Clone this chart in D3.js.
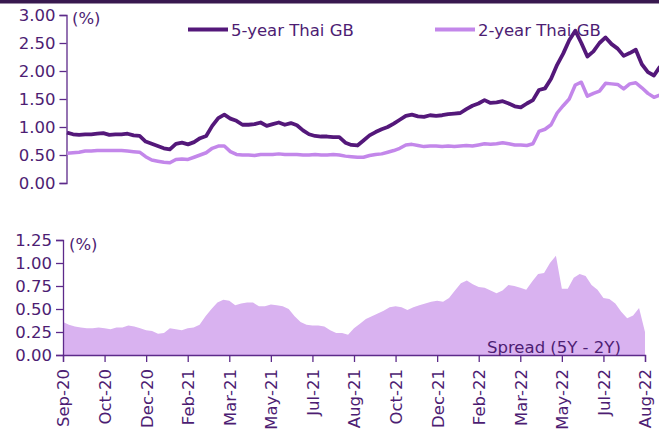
<!DOCTYPE html>
<html>
<head>
<meta charset="utf-8">
<script src="https://cdn.jsdelivr.net/npm/d3@7"></script>
<style>
  body { margin: 0; background: #fff; }
  svg text { font-family: 'DejaVu Sans', Verdana, sans-serif; fill: #4d1d73; }
</style>
</head>
<body>
<script>
const width = 659;
const height = 431;

// x-axis labels (category axis, evenly spaced)
const xLabels = ['Sep-20', 'Oct-20', 'Dec-20', 'Feb-21', 'Mar-21', 'May-21', 'Jul-21', 'Aug-21',
  'Oct-21', 'Dec-21', 'Feb-22', 'Mar-22', 'May-22', 'Jul-22', 'Aug-22'];

// 5-year Thai GB yield (%)
const yield5Y = [0.90, 0.87, 0.86, 0.87, 0.87, 0.88, 0.89, 0.86, 0.87, 0.87,
  0.88, 0.85, 0.84, 0.74, 0.70, 0.66, 0.62, 0.60, 0.70, 0.72,
  0.69, 0.73, 0.80, 0.84, 1.02, 1.16, 1.22, 1.15, 1.11, 1.04,
  1.04, 1.05, 1.08, 1.02, 1.05, 1.08, 1.04, 1.07, 1.03, 0.94,
  0.87, 0.84, 0.83, 0.83, 0.82, 0.82, 0.72, 0.68, 0.67, 0.76,
  0.85, 0.91, 0.96, 1.00, 1.06, 1.13, 1.20, 1.22, 1.19, 1.18,
  1.21, 1.20, 1.21, 1.23, 1.24, 1.25, 1.32, 1.38, 1.42, 1.48,
  1.43, 1.44, 1.46, 1.42, 1.37, 1.35, 1.42, 1.48, 1.66, 1.69,
  1.86, 2.11, 2.31, 2.55, 2.72, 2.50, 2.26, 2.35, 2.50, 2.60,
  2.48, 2.40, 2.27, 2.32, 2.38, 2.12, 1.98, 1.92, 2.08];

// 2-year Thai GB yield (%)
const yield2Y = [0.53, 0.54, 0.55, 0.57, 0.57, 0.58, 0.58, 0.58, 0.58, 0.58,
  0.57, 0.56, 0.55, 0.47, 0.41, 0.39, 0.37, 0.36, 0.42, 0.43,
  0.42, 0.46, 0.50, 0.54, 0.62, 0.66, 0.66, 0.56, 0.51, 0.50,
  0.50, 0.49, 0.51, 0.51, 0.51, 0.52, 0.51, 0.51, 0.51, 0.50,
  0.50, 0.51, 0.50, 0.50, 0.51, 0.50, 0.48, 0.47, 0.46, 0.46,
  0.49, 0.51, 0.52, 0.55, 0.58, 0.62, 0.68, 0.69, 0.67, 0.65,
  0.66, 0.66, 0.65, 0.66, 0.65, 0.66, 0.67, 0.66, 0.68, 0.70,
  0.69, 0.70, 0.72, 0.70, 0.68, 0.68, 0.67, 0.70, 0.92, 0.96,
  1.04, 1.25, 1.38, 1.50, 1.75, 1.80, 1.55, 1.60, 1.64, 1.78,
  1.77, 1.76, 1.68, 1.77, 1.79, 1.70, 1.60, 1.53, 1.57];

// Spread 5Y - 2Y (%)
const spread = [0.36, 0.33, 0.31, 0.30, 0.29, 0.29, 0.30, 0.29, 0.28, 0.30,
  0.30, 0.32, 0.31, 0.29, 0.27, 0.26, 0.23, 0.24, 0.29, 0.28,
  0.27, 0.29, 0.30, 0.33, 0.42, 0.50, 0.57, 0.60, 0.59, 0.54,
  0.56, 0.57, 0.57, 0.53, 0.53, 0.55, 0.54, 0.53, 0.50, 0.42,
  0.36, 0.33, 0.32, 0.32, 0.31, 0.27, 0.24, 0.24, 0.22, 0.29,
  0.34, 0.39, 0.42, 0.45, 0.48, 0.52, 0.53, 0.52, 0.49, 0.52,
  0.54, 0.56, 0.58, 0.59, 0.58, 0.62, 0.70, 0.78, 0.81, 0.77,
  0.74, 0.73, 0.70, 0.67, 0.70, 0.76, 0.75, 0.73, 0.71, 0.80,
  0.88, 0.89, 1.00, 1.08, 0.72, 0.72, 0.84, 0.88, 0.86, 0.76,
  0.71, 0.62, 0.61, 0.56, 0.47, 0.40, 0.43, 0.51, 0.25];

const topTicks = [0, 0.5, 1, 1.5, 2, 2.5, 3];
const bottomTicks = [0, 0.25, 0.5, 0.75, 1, 1.25];

const axisColor = '#5d2a8a';
const color5Y = '#54187a';
const color2Y = '#c387ea';
const spreadFill = '#d9b2f0';

const svg = d3.select('body')
  .append('svg')
  .attr('width', width)
  .attr('height', height);

// dark strip along the top
svg.append('rect')
  .attr('x', 0).attr('y', 0)
  .attr('width', width).attr('height', 3.5)
  .attr('fill', '#38194f');

const lastIdx = yield5Y.length - 1;
const tickIdx = xLabels.map((d, i) => Math.round(i * lastIdx / (xLabels.length - 1)));

// ---- top chart: yields ----
const xTop = d3.scaleLinear().domain([0, lastIdx]).range([67, 660]);
const yTop = d3.scaleLinear().domain([0, 3]).range([183, 15]);

const styleAxis = g => {
  g.selectAll('path, line').attr('stroke', axisColor).attr('stroke-width', 1.3);
  g.selectAll('text').style('font-size', '16.5px').attr('fill', '#4d1d73');
};

svg.append('g')
  .attr('transform', 'translate(66.5,0)')
  .call(d3.axisLeft(yTop).tickValues(topTicks).tickFormat(d3.format('.2f'))
    .tickSizeOuter(0).tickSize(7).tickPadding(4))
  .call(styleAxis)
  .call(g => g.selectAll('text').attr('dy', '0.36em'));

svg.append('text')
  .attr('x', 72).attr('y', 24)
  .style('font-size', '16.5px')
  .text('(%)');

// legend
const legend = [
  { name: '5-year Thai GB', color: color5Y, x: 188 },
  { name: '2-year Thai GB', color: color2Y, x: 435 }
];
legend.forEach(d => {
  svg.append('line')
    .attr('x1', d.x).attr('x2', d.x + 40)
    .attr('y1', 29.5).attr('y2', 29.5)
    .attr('stroke', d.color).attr('stroke-width', 4);
  svg.append('text')
    .attr('x', d.x + 43).attr('y', 35.5)
    .style('font-size', '16.5px')
    .text(d.name);
});

const lineTop = d3.line()
  .x((d, i) => xTop(i))
  .y(d => yTop(d));

svg.append('path')
  .datum(yield2Y)
  .attr('d', lineTop)
  .attr('fill', 'none')
  .attr('stroke', color2Y)
  .attr('stroke-width', 3.5)
  .attr('stroke-linejoin', 'round');

svg.append('path')
  .datum(yield5Y)
  .attr('d', lineTop)
  .attr('fill', 'none')
  .attr('stroke', color5Y)
  .attr('stroke-width', 3.8)
  .attr('stroke-linejoin', 'round');

// ---- bottom chart: spread ----
const xBot = d3.scaleLinear().domain([0, lastIdx]).range([63, 645]);
const yBot = d3.scaleLinear().domain([0, 1.25]).range([355, 240]);

const area = d3.area()
  .x((d, i) => xBot(i))
  .y0(yBot(0))
  .y1(d => yBot(d));

svg.append('path')
  .datum(spread)
  .attr('d', area)
  .attr('fill', spreadFill);

svg.append('g')
  .attr('transform', 'translate(63,0)')
  .call(d3.axisLeft(yBot).tickValues(bottomTicks).tickFormat(d3.format('.2f'))
    .tickSizeOuter(0).tickSize(7).tickPadding(4))
  .call(styleAxis)
  .call(g => g.selectAll('text').attr('dy', '0.36em'));

svg.append('g')
  .attr('transform', 'translate(0,355)')
  .call(d3.axisBottom(xBot).tickValues(tickIdx)
    .tickFormat((d, i) => xLabels[i])
    .tickSizeOuter(0).tickSize(7))
  .call(styleAxis)
  .call(g => g.selectAll('text')
    .attr('text-anchor', 'end')
    .attr('transform', 'rotate(-90)')
    .attr('x', -14)
    .attr('y', 0)
    .attr('dy', '0.36em'));

svg.append('text')
  .attr('x', 487).attr('y', 353)
  .style('font-size', '16.5px')
  .text('Spread (5Y - 2Y)');

svg.append('text')
  .attr('x', 69).attr('y', 250)
  .style('font-size', '16.5px')
  .text('(%)');
</script>
</body>
</html>
